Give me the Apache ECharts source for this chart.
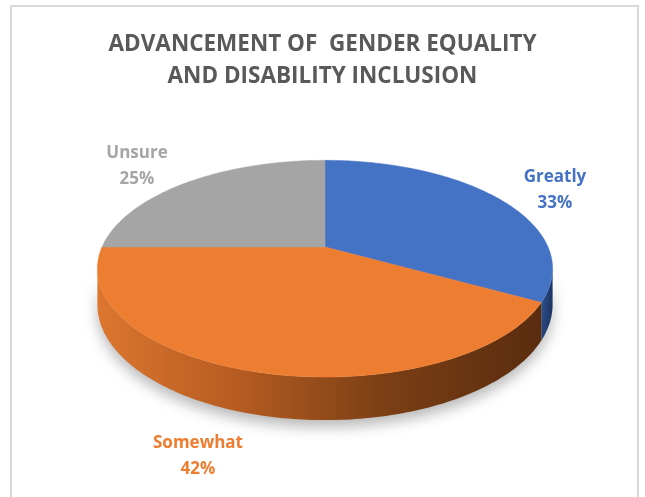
<!DOCTYPE html>
<html>
<head>
<meta charset="utf-8">
<script src="https://cdn.jsdelivr.net/npm/echarts@6/dist/echarts.min.js"></script>
<style>
html,body{margin:0;padding:0;background:#fff;}
#chart{width:645px;height:497px;}
</style>
</head>
<body>
<div id="chart"></div>
<script>
// ---- data ----
var categories = ['Greatly', 'Somewhat', 'Unsure'];
var values = [33, 42, 25];
var titleLines = ['ADVANCEMENT OF  GENDER EQUALITY', 'AND DISABILITY INCLUSION'];

// ---- style / layout ----
var topColors = ['#4472C4', '#ED7D31', '#A5A5A5'];
var labelColors = ['#4472C4', '#ED7D31', '#A5A5A5'];
var sideGradients = [
  [{offset:0,color:'#2f5290'},{offset:1,color:'#1c3360'}],
  [{offset:0,color:'#dc7630'},{offset:0.3,color:'#b85d22'},{offset:0.65,color:'#7a3f15'},{offset:1,color:'#5a2c0e'}],
  [{offset:0,color:'#8a8a8a'},{offset:1,color:'#5a5a5a'}]
];
var labelPos = [[555, 190], [198, 456], [137, 166]];

var CX = 325, CY = 247, S = 223, T = 104, K = 0.2, D0 = 34.5;

function proj(deg, depth) {
  var a = deg * Math.PI / 180;
  var X = Math.sin(a), Z = Math.cos(a);
  var w = 1 + K * Z;
  return [CX + S * X / w, CY - T * Z / w + (depth ? depth / w : 0)];
}
function arc(a0, a1, depth) {
  var pts = [];
  var n = Math.max(2, Math.ceil(Math.abs(a1 - a0)));
  for (var i = 0; i <= n; i++) pts.push(proj(a0 + (a1 - a0) * i / n, depth));
  return pts;
}
var total = values.reduce(function (s, v) { return s + v; }, 0);
function sliceAngles(idx) {
  var start = 0;
  for (var i = 0; i < idx; i++) start += values[i] / total * 360;
  return [start, start + values[idx] / total * 360];
}
var silL = Math.acos(-K) * 180 / Math.PI;
var silR = 360 - silL;

var chart = echarts.init(document.getElementById('chart'), null, {renderer: 'canvas'});

var seriesData = categories.map(function (c, i) { return {name: c, value: values[i]}; });

chart.setOption({
  backgroundColor: '#ffffff',
  animation: false,
  title: {
    text: titleLines.join('\n'),
    left: 'center',
    top: 29,
    padding: 0,
    textStyle: {
      fontFamily: 'Open Sans', fontWeight: 'bold', fontSize: 22.5,
      color: '#595959', lineHeight: 32
    }
  },
  graphic: [{
    type: 'rect', silent: true, z: -1,
    shape: {x: 11, y: 6, width: 627, height: 520},
    style: {fill: 'none', stroke: '#d9d9d9', lineWidth: 2}
  }],
  series: [
    {
      type: 'custom', coordinateSystem: 'none', data: seriesData, z: 1,
      renderItem: function (params, api) {
        var idx = params.dataIndex;
        var ang = sliceAngles(idx);
        var s0 = Math.max(ang[0], silL), s1 = Math.min(ang[1], silR);
        if (s0 >= s1) return {type: 'group', children: []};
        var pts = arc(s0, s1, 0).concat(arc(s1, s0, D0));
        return {
          type: 'polygon',
          shape: {points: pts},
          style: {
            fill: {type: 'linear', x: 0, y: 0, x2: 1, y2: 0, colorStops: sideGradients[idx]},
            stroke: null,
            shadowBlur: 14, shadowColor: 'rgba(0,0,0,0.28)', shadowOffsetY: 7
          }
        };
      }
    },
    {
      type: 'custom', coordinateSystem: 'none', data: seriesData, z: 2,
      renderItem: function (params, api) {
        var idx = params.dataIndex;
        var ang = sliceAngles(idx);
        var pts = [[CX, CY]].concat(arc(ang[0], ang[1], 0));
        var pct = Math.round(api.value(0) / total * 100);
        var lp = labelPos[idx];
        return {
          type: 'group',
          children: [
            {
              type: 'polygon',
              shape: {points: pts},
              style: {fill: topColors[idx], stroke: topColors[idx], lineWidth: 0.5}
            },
            {
              type: 'text',
              x: lp[0], y: lp[1],
              style: {
                text: categories[idx] + '\n' + pct + '%',
                fill: labelColors[idx],
                font: 'bold 17px "Open Sans"',
                lineHeight: 26,
                align: 'center', verticalAlign: 'middle'
              }
            }
          ]
        };
      }
    }
  ]
});
</script>
</body>
</html>
